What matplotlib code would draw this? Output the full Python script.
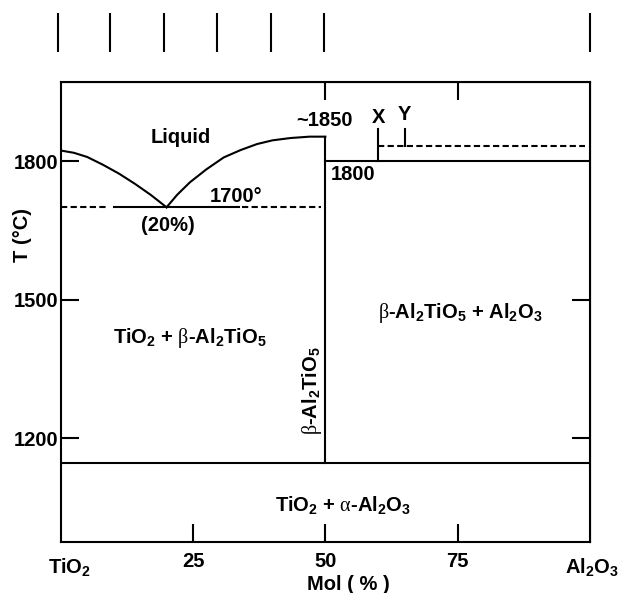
import matplotlib
matplotlib.use('Agg')
import matplotlib.pyplot as plt

# fonts: bold sans for text, thin serif for greek letters (via mathtext)
plt.rcParams['font.family'] = ['Liberation Sans', 'DejaVu Sans']
plt.rcParams['font.weight'] = 'bold'
plt.rcParams['mathtext.fontset'] = 'custom'
plt.rcParams['mathtext.rm'] = 'Liberation Sans:bold'
plt.rcParams['mathtext.bf'] = 'Liberation Sans:bold'
plt.rcParams['mathtext.sf'] = 'Liberation Sans:bold'
plt.rcParams['mathtext.it'] = 'Liberation Serif:weight=normal:style=normal'
plt.rcParams['mathtext.cal'] = 'Liberation Serif:weight=normal:style=normal'

# liquidus (mol % Al2O3, T in deg C)
liq_left_x = [0, 2.5, 5, 8, 11, 14, 17, 20]
liq_left_t = [1823, 1818, 1809, 1792, 1773, 1751, 1727, 1700]
liq_right_x = [20, 22, 24.4, 27.5, 30.8, 34, 37.1, 40, 43.4, 47, 50]
liq_right_t = [1700, 1727, 1754, 1782, 1808, 1824, 1837, 1845, 1850, 1853, 1853]

eutectic_t = 1700
eutectic_dash_left = [0, 8.8]
eutectic_solid = [10.1, 33.6]
eutectic_dash_right = [34.2, 49.2]

compound_x = 50
solidus_low_t = 1146
peritectic_t = 1800
x_comp, y_comp = 60, 65
xy_top_t = 1870
dashed_t = 1832

y_ticks = [1800, 1500, 1200]
y_ticks_right = [1500, 1200]
x_ticks = [25, 50, 75]
x_ticks_top = [50, 75]
top_marks = [-0.6, 9.4, 19.5, 29.6, 39.7, 49.8, 100.0]

lw = 1.5
dash = (0, (3, 1.6))
fs = 14.5
beta = '$\\mathcal{\\beta}$'
alpha = '$\\mathcal{\\alpha}$'

fig = plt.figure(figsize=(6.2, 5.93), dpi=100)
ax = fig.add_axes([0.0979, 0.0860, 0.8537, 0.7762])
ax.set_xlim(0, 100)
ax.set_ylim(975, 1972)

for s in ax.spines.values():
    s.set_linewidth(lw)

# liquidus curves
ax.plot(liq_left_x, liq_left_t, color='k', lw=lw)
ax.plot(liq_right_x, liq_right_t, color='k', lw=lw)

# eutectic line
ax.plot(eutectic_dash_left, [eutectic_t] * 2, color='k', lw=lw, ls=dash)
ax.plot(eutectic_solid, [eutectic_t] * 2, color='k', lw=lw)
ax.plot(eutectic_dash_right, [eutectic_t] * 2, color='k', lw=lw, ls=dash)

# compound and decomposition lines
ax.plot([compound_x, compound_x], [solidus_low_t, liq_right_t[-1]], color='k', lw=lw)
ax.plot([0, 100], [solidus_low_t] * 2, color='k', lw=lw)
ax.plot([compound_x, 100], [peritectic_t] * 2, color='k', lw=lw)
ax.plot([x_comp, x_comp], [peritectic_t, xy_top_t], color='k', lw=lw)
ax.plot([x_comp, 99], [dashed_t] * 2, color='k', lw=lw, ls=dash)
ax.plot([y_comp, y_comp], [dashed_t, xy_top_t], color='k', lw=lw)

# marks above the frame
ax.vlines(top_marks, 1.0645, 1.149, transform=ax.get_xaxis_transform(),
          color='k', lw=lw, clip_on=False)

# ticks
ax.set_yticks(y_ticks)
ax.set_xticks(x_ticks)
ax.tick_params(direction='in', length=13, width=lw, labelsize=fs)
ax.tick_params(axis='y', pad=2)
ax.tick_params(axis='x', pad=7)
top = ax.secondary_xaxis('top')
top.set_xticks(x_ticks_top)
top.tick_params(direction='in', length=13, width=lw, labeltop=False)
right = ax.secondary_yaxis('right')
right.set_yticks(y_ticks_right)
right.tick_params(direction='in', length=13, width=lw, labelright=False)

ax.text(1.6, -0.054, 'TiO$_2$', transform=ax.get_xaxis_transform(),
        ha='center', va='center', fontsize=fs)
ax.text(100.4, -0.054, 'Al$_2$O$_3$', transform=ax.get_xaxis_transform(),
        ha='center', va='center', fontsize=fs)

ax.set_xlabel('Mol ( % )', fontsize=fs, fontweight='bold')
ax.xaxis.set_label_coords(0.543, -0.072)
ax.set_ylabel('T (°C)', fontsize=fs, fontweight='bold')
ax.yaxis.set_label_coords(-0.054, 0.668)

# labels in the diagram
ax.text(22.7, 1851, 'Liquid', ha='center', va='center', fontsize=fs)
ax.text(49.8, 1888, '~1850', ha='center', va='center', fontsize=fs)
ax.text(x_comp, 1895, 'X', ha='center', va='center', fontsize=fs)
ax.text(y_comp, 1900, 'Y', ha='center', va='center', fontsize=fs)
ax.text(55.3, 1772, '1800', ha='center', va='center', fontsize=fs)
ax.text(33.2, 1723, '1700°', ha='center', va='center', fontsize=fs)
ax.text(20.3, 1661, '(20%)', ha='center', va='center', fontsize=fs)
ax.text(24.4, 1416, 'TiO$_2$ + ' + beta + '-Al$_2$TiO$_5$',
        ha='center', va='center', fontsize=fs)
ax.text(47.4, 1304, beta + '-Al$_2$TiO$_5$', ha='center', va='center',
        rotation=90, fontsize=fs)
ax.text(75.4, 1470, beta + '-Al$_2$TiO$_5$ + Al$_2$O$_3$',
        ha='center', va='center', fontsize=fs)
ax.text(53.3, 1055, 'TiO$_2$ + ' + alpha + '-Al$_2$O$_3$',
        ha='center', va='center', fontsize=fs)

fig.savefig('out.png', dpi=100)
